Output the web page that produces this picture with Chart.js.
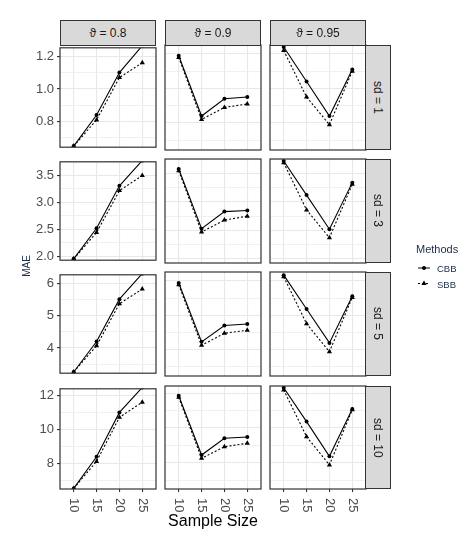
<!DOCTYPE html>
<html>
<head>
<meta charset="utf-8">
<script src="https://cdn.jsdelivr.net/npm/chart.js@4.4.0/dist/chart.umd.min.js"></script>
<style>
  body { margin: 0; background: #fff; }
  #wrap { position: relative; width: 472px; height: 538px; overflow: hidden; font-family: "Liberation Sans", Arial, sans-serif; }
  .panel { position: absolute; }
  .strip { position: absolute; box-sizing: border-box; background: #d9d9d9; border: 1.2px solid #333; color: #1a1a1a; font-size: 12px; display: flex; align-items: center; justify-content: center; }
  .strip.right { writing-mode: vertical-rl; }
  .lbl { position: absolute; white-space: nowrap; }
</style>
</head>
<body>
<div id="wrap"></div>
<script>
// facetten
const sampleSizes = ['10', '15', '20', '25'];
const thetaLabels = ['ϑ = 0.8', 'ϑ = 0.9', 'ϑ = 0.95'];
const sdLabels = ['sd = 1', 'sd = 3', 'sd = 5', 'sd = 10'];

// MAE per sd, je eine Zeile pro theta (0.8, 0.9, 0.95)
const cbbSd1 = [[0.65, 0.84, 1.10, 1.265], [1.19, 0.84, 0.94, 0.95], [1.24, 1.04, 0.84, 1.11]];
const sbbSd1 = [[0.65, 0.81, 1.07, 1.16], [1.18, 0.82, 0.89, 0.91], [1.22, 0.95, 0.79, 1.10]];
const cbbSd3 = [[1.95, 2.52, 3.31, 3.78], [3.58, 2.53, 2.83, 2.85], [3.72, 3.12, 2.52, 3.34]];
const sbbSd3 = [[1.95, 2.44, 3.22, 3.50], [3.55, 2.47, 2.68, 2.75], [3.69, 2.86, 2.37, 3.31]];
const cbbSd5 = [[3.26, 4.20, 5.51, 6.30], [5.94, 4.22, 4.70, 4.74], [6.17, 5.18, 4.19, 5.55]];
const sbbSd5 = [[3.26, 4.07, 5.37, 5.82], [5.89, 4.12, 4.47, 4.56], [6.12, 4.75, 3.93, 5.52]];
const cbbSd10 = [[6.52, 8.39, 11.02, 12.50], [11.86, 8.44, 9.41, 9.48], [12.32, 10.37, 8.37, 11.09]];
const sbbSd10 = [[6.52, 8.12, 10.73, 11.63], [11.77, 8.25, 8.92, 9.12], [12.19, 9.50, 7.87, 11.05]];

// y-Achsen je Zeile
const yMin = [0.643, 1.925, 3.222, 6.484];
const yMax = [1.252, 3.756, 6.262, 12.42];
const yMajor = [[0.8, 1.0, 1.2], [2.0, 2.5, 3.0, 3.5], [4, 5, 6], [8, 10, 12]];
const yMajorLabels = [['0.8', '1.0', '1.2'], ['2.0', '2.5', '3.0', '3.5'], ['4', '5', '6'], ['8', '10', '12']];
const yMinor = [[0.7, 0.9, 1.1], [2.25, 2.75, 3.25, 3.75], [3.5, 4.5, 5.5], [7, 9, 11]];

const cbbRows = [cbbSd1, cbbSd3, cbbSd5, cbbSd10];
const sbbRows = [sbbSd1, sbbSd3, sbbSd5, sbbSd10];

// layout
const colLeft = [60, 165, 270];
const colW = 96;
const rowTop = [45, 159, 272, 386];
const rowH = [105, 104, 104, 103];
const PAD = 8;
const Y_AXIS_W = 52;
const X_AXIS_H = 28;

const wrap = document.getElementById('wrap');

const panelBox = {
    id: 'panelBox',
    afterDraw(chart) {
        const a = chart.chartArea;
        const ctx = chart.ctx;
        ctx.save();
        ctx.strokeStyle = '#333333';
        ctx.lineWidth = 1.2;
        ctx.strokeRect(a.left, a.top, a.right - a.left, a.bottom - a.top);
        ctx.restore();
    }
};

// x-Beschriftung im Uhrzeigersinn gedreht (wie ggplot)
const xLabels = {
    id: 'xLabels',
    afterDraw(chart) {
        const xs = chart.scales.x;
        const ctx = chart.ctx;
        ctx.save();
        ctx.font = '13px "Liberation Sans", Arial, sans-serif';
        ctx.fillStyle = '#4d4d4d';
        ctx.textAlign = 'left';
        ctx.textBaseline = 'middle';
        sampleSizes.forEach((s, i) => {
            const x = xs.getPixelForValue(i + 1);
            ctx.save();
            ctx.translate(x, chart.chartArea.bottom + 9);
            ctx.rotate(Math.PI / 2);
            ctx.fillText(s, 0, 0);
            ctx.restore();
        });
        ctx.restore();
    }
};

function yTicks(r) {
    const t = yMajor[r].map((v, i) => ({ value: v, minor: false, text: yMajorLabels[r][i] }))
        .concat(yMinor[r].map(v => ({ value: v, minor: true, text: '' })));
    return t.sort((a, b) => a.value - b.value);
}

function makePanel(r, c) {
    const div = document.createElement('div');
    div.className = 'panel';
    const left = colLeft[c] - PAD - (c === 0 ? Y_AXIS_W : 0);
    const width = colW + 2 * PAD + (c === 0 ? Y_AXIS_W : 0);
    const top = rowTop[r] - PAD;
    const height = rowH[r] + 2 * PAD + (r === 3 ? X_AXIS_H : 0);
    div.style.left = left + 'px';
    div.style.top = top + 'px';
    div.style.width = width + 'px';
    div.style.height = height + 'px';
    const canvas = document.createElement('canvas');
    div.appendChild(canvas);
    wrap.appendChild(div);

    const toPts = arr => arr.map((v, i) => ({ x: i + 1, y: v }));

    new Chart(canvas.getContext('2d'), {
        type: 'line',
        data: {
            datasets: [{
                label: 'CBB',
                data: toPts(cbbRows[r][c]),
                borderColor: '#000',
                backgroundColor: '#000',
                borderWidth: 1.1,
                pointStyle: 'circle',
                pointRadius: 2,
                pointBorderWidth: 0,
                clip: 0
            }, {
                label: 'SBB',
                data: toPts(sbbRows[r][c]),
                borderColor: '#000',
                backgroundColor: '#000',
                borderWidth: 1.1,
                borderDash: [2, 2],
                pointStyle: 'triangle',
                pointRadius: 3,
                pointBorderWidth: 0,
                clip: 0
            }]
        },
        options: {
            responsive: true,
            maintainAspectRatio: false,
            animation: false,
            layout: { padding: PAD },
            plugins: { legend: { display: false }, tooltip: { enabled: false } },
            scales: {
                x: {
                    type: 'linear',
                    min: 0.4,
                    max: 4.6,
                    afterBuildTicks: s => { s.ticks = sampleSizes.map((_, i) => ({ value: i + 1 })); },
                    afterFit: s => { s.height = r === 3 ? X_AXIS_H : 0; },
                    ticks: { display: false, autoSkip: false },
                    grid: { color: '#e8e8e8', lineWidth: 1.1, drawTicks: r === 3, tickLength: 3, tickColor: '#333' },
                    border: { display: false }
                },
                y: {
                    type: 'linear',
                    min: yMin[r],
                    max: yMax[r],
                    afterBuildTicks: s => { s.ticks = yTicks(r); },
                    afterFit: s => { s.width = c === 0 ? Y_AXIS_W : 0; },
                    ticks: {
                        display: c === 0,
                        autoSkip: false,
                        padding: 3,
                        color: '#4d4d4d',
                        font: { family: '"Liberation Sans", Arial, sans-serif', size: 13 },
                        callback: (v, i, ticks) => ticks[i].text
                    },
                    grid: {
                        color: ctx => ctx.tick && ctx.tick.minor ? '#ececec' : '#e8e8e8',
                        lineWidth: ctx => ctx.tick && ctx.tick.minor ? 0.8 : 1.1,
                        drawTicks: c === 0,
                        tickLength: 3,
                        tickColor: ctx => ctx.tick && ctx.tick.minor ? 'rgba(0,0,0,0)' : '#333'
                    },
                    border: { display: false }
                }
            }
        },
        plugins: r === 3 ? [panelBox, xLabels] : [panelBox]
    });
}

for (let r = 0; r < 4; r++) {
    for (let c = 0; c < 3; c++) makePanel(r, c);
}

// Streifen oben
thetaLabels.forEach((t, c) => {
    const s = document.createElement('div');
    s.className = 'strip';
    s.style.left = colLeft[c] + 'px';
    s.style.top = '20px';
    s.style.width = colW + 'px';
    s.style.height = '26px';
    s.textContent = t;
    wrap.appendChild(s);
});
// Streifen rechts
sdLabels.forEach((t, r) => {
    const s = document.createElement('div');
    s.className = 'strip right';
    s.style.left = (colLeft[2] + colW - 0.6) + 'px';
    s.style.top = rowTop[r] + 'px';
    s.style.width = '26px';
    s.style.height = rowH[r] + 'px';
    s.textContent = t;
    wrap.appendChild(s);
});

function addLabel(text, css) {
    const d = document.createElement('div');
    d.className = 'lbl';
    d.textContent = text;
    Object.assign(d.style, css);
    wrap.appendChild(d);
    return d;
}

addLabel('Sample Size', { left: '213px', top: '521px', transform: 'translate(-50%, -50%)', fontSize: '16px', color: '#000' });
addLabel('MAE', { left: '26px', top: '266px', transform: 'translate(-50%, -50%) rotate(-90deg)', fontSize: '10px', color: '#1c2a4a' });
addLabel('Methods', { left: '416px', top: '249px', transform: 'translateY(-50%)', fontSize: '11px', color: '#1c2a4a' });
addLabel('CBB', { left: '437px', top: '268px', transform: 'translateY(-50%)', fontSize: '9.5px', color: '#1c2a4a' });
addLabel('SBB', { left: '437px', top: '283.5px', transform: 'translateY(-50%)', fontSize: '9.5px', color: '#1c2a4a' });

// Legenden-Symbole
const key = document.createElement('div');
key.style.position = 'absolute';
key.style.left = '416px';
key.style.top = '260px';
key.innerHTML =
    '<svg width="18" height="30" xmlns="http://www.w3.org/2000/svg">' +
    '<line x1="2" y1="8" x2="14" y2="8" stroke="#000" stroke-width="1"/>' +
    '<circle cx="8" cy="8" r="2" fill="#000"/>' +
    '<line x1="2" y1="23.5" x2="14" y2="23.5" stroke="#000" stroke-width="1" stroke-dasharray="2,2"/>' +
    '<polygon points="8,20.5 10.6,25 5.4,25" fill="#000"/>' +
    '</svg>';
wrap.appendChild(key);
</script>
</body>
</html>
